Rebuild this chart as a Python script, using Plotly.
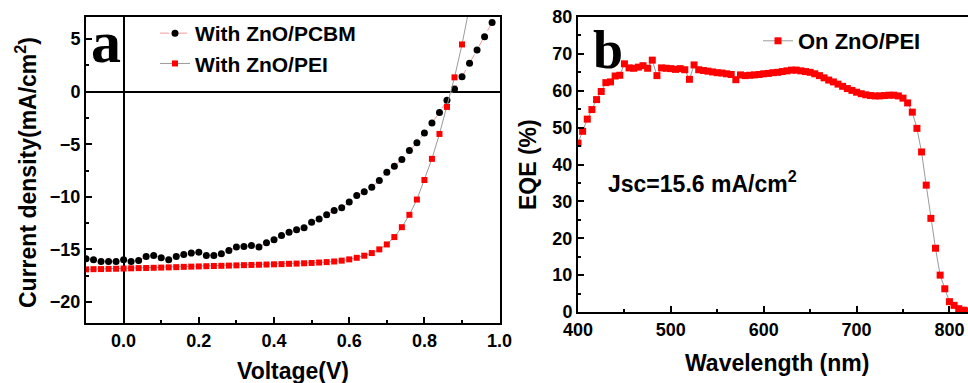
import plotly.graph_objects as go

# ---------------- data: panel a (J-V) ----------------
voltage = [-0.10, -0.08, -0.06, -0.04, -0.02, 0.00, 0.02, 0.04, 0.06, 0.08,
           0.10, 0.12, 0.14, 0.16, 0.18, 0.20, 0.22, 0.24, 0.26, 0.28,
           0.30, 0.32, 0.34, 0.36, 0.38, 0.40, 0.42, 0.44, 0.46, 0.48,
           0.50, 0.52, 0.54, 0.56, 0.58, 0.60, 0.62, 0.64, 0.66, 0.68,
           0.70, 0.72, 0.74, 0.76, 0.78, 0.80, 0.82, 0.84, 0.86, 0.88,
           0.90, 0.92, 0.94, 0.96, 0.98]

j_pcbm = [-15.9, -15.98, -16.15, -16.15, -16.15, -15.98, -16.15, -16.05, -15.67, -15.57,
          -15.8, -15.98, -15.67, -15.48, -15.35, -15.26, -15.57, -15.57, -15.42, -15.1,
          -14.78, -14.72, -14.62, -14.78, -14.37, -14.09, -13.68, -13.36, -13.14, -12.95,
          -12.41, -12.1, -11.7, -11.3, -11.05, -10.5, -9.88, -9.53, -9.09, -8.45,
          -7.66, -7.09, -6.46, -5.6, -4.87, -3.92, -2.97, -1.99, -0.82, 0.25,
          1.42, 2.69, 3.96, 5.22, 6.58]

voltage_pei = [-0.10, -0.08, -0.06, -0.04, -0.02, 0.00, 0.02, 0.04, 0.06, 0.08,
               0.10, 0.12, 0.14, 0.16, 0.18, 0.20, 0.22, 0.24, 0.26, 0.28,
               0.30, 0.32, 0.34, 0.36, 0.38, 0.40, 0.42, 0.44, 0.46, 0.48,
               0.50, 0.52, 0.54, 0.56, 0.58, 0.60, 0.62, 0.64, 0.66, 0.68,
               0.70, 0.72, 0.74, 0.76, 0.78, 0.80, 0.82, 0.84, 0.86, 0.88,
               0.90, 0.92]

j_pei = [-16.9, -16.88, -16.87, -16.85, -16.84, -16.82, -16.8, -16.78, -16.77, -16.75,
         -16.73, -16.71, -16.69, -16.66, -16.64, -16.62, -16.6, -16.58, -16.56, -16.54,
         -16.52, -16.5, -16.48, -16.46, -16.44, -16.42, -16.4, -16.37, -16.35, -16.32,
         -16.29, -16.25, -16.21, -16.15, -16.07, -15.95, -15.8, -15.6, -15.35, -15.0,
         -14.53, -13.83, -12.89, -11.71, -10.26, -8.4, -6.39, -4.02, -1.45, 1.36,
         4.49, 8.1]

# ---------------- data: panel b (EQE) ----------------
wavelength = [400, 405, 410, 415, 420, 425, 430, 435, 440, 445,
              450, 455, 460, 465, 470, 475, 480, 485, 490, 495,
              500, 505, 510, 515, 520, 525, 530, 535, 540, 545,
              550, 555, 560, 565, 570, 575, 580, 585, 590, 595,
              600, 605, 610, 615, 620, 625, 630, 635, 640, 645,
              650, 655, 660, 665, 670, 675, 680, 685, 690, 695,
              700, 705, 710, 715, 720, 725, 730, 735, 740, 745,
              750, 755, 760, 765, 770, 775, 780, 785, 790, 795,
              800, 805, 810, 815, 820]

eqe = [45.8, 49.0, 52.3, 54.9, 57.6, 59.8, 62.2, 62.4, 64.0, 64.2,
       67.3, 66.2, 66.1, 66.4, 66.8, 66.1, 68.3, 64.1, 66.2, 66.1,
       66.0, 65.8, 66.0, 65.7, 63.1, 67.0, 65.7, 65.5, 65.3, 65.1,
       64.9, 64.8, 64.6, 64.4, 63.0, 64.3, 64.1, 64.2, 64.3, 64.4,
       64.6, 64.7, 64.9, 65.0, 65.2, 65.4, 65.6, 65.6, 65.4, 65.2,
       65.0, 64.6, 64.1, 63.5, 62.9, 62.4, 61.8, 61.2, 60.6, 60.1,
       59.6, 59.2, 58.9, 58.7, 58.6, 58.6, 58.7, 58.8, 58.8, 58.6,
       58.0, 56.7, 54.2, 49.8, 43.4, 34.4, 25.4, 17.3, 10.0, 6.3,
       2.8, 1.8, 0.9, 0.5, 0.3]

x_ticks_a = [0.0, 0.2, 0.4, 0.6, 0.8, 1.0]
x_ticklabels_a = ["0.0", "0.2", "0.4", "0.6", "0.8", "1.0"]
y_ticks_a = [-20, -15, -10, -5, 0, 5]
x_ticks_b = [400, 500, 600, 700, 800]
y_ticks_b = [0, 10, 20, 30, 40, 50, 60, 70, 80]

W, H = 968, 383
def px(x):
    return x / W
def py(y):
    return 1 - y / H

SANS = "Liberation Sans, Arial, sans-serif"
SERIF = "Liberation Serif, Times New Roman, serif"

fig = go.Figure()

fig.add_trace(go.Scatter(
    x=voltage, y=j_pcbm, mode="lines+markers", name="With ZnO/PCBM",
    line=dict(color="#f29a9a", width=1, dash="dash"),
    marker=dict(symbol="circle", size=7, color="black"),
    xaxis="x", yaxis="y", legend="legend"))
fig.add_trace(go.Scatter(
    x=voltage_pei, y=j_pei, mode="lines+markers", name="With ZnO/PEI",
    line=dict(color="#9a9a9a", width=1),
    marker=dict(symbol="square", size=6, color="#ff0000"),
    xaxis="x", yaxis="y", legend="legend"))
fig.add_trace(go.Scatter(
    x=wavelength, y=eqe, mode="lines+markers", name="On ZnO/PEI",
    line=dict(color="#9a9a9a", width=1),
    marker=dict(symbol="square", size=7, color="#ff0000"),
    xaxis="x2", yaxis="y2", legend="legend2"))

tickfont = dict(family=SANS, size=18, color="black", weight="bold")
common = dict(showgrid=False, showline=True, linecolor="black", linewidth=2,
              ticks="inside", tickcolor="black", tickwidth=1.5, ticklen=6,
              tickfont=tickfont, automargin=False, ticklabeloverflow="allow")
minor = dict(ticks="inside", ticklen=3, tickcolor="black", tickwidth=1.5, showgrid=False)

fig.update_layout(
    width=W, height=H,
    margin=dict(l=0, r=0, t=0, b=0, autoexpand=False),
    paper_bgcolor="white", plot_bgcolor="white",
    showlegend=True,
    xaxis=dict(domain=[px(86), px(500)], range=[-0.1, 1.001], anchor="y",
               tickvals=x_ticks_a, ticktext=x_ticklabels_a, mirror=True,
               zeroline=True, zerolinecolor="black", zerolinewidth=1.5,
               minor=dict(dtick=0.1, tick0=0, **minor), **common),
    yaxis=dict(domain=[py(323), py(17)], range=[-22, 7.1], anchor="x",
               tickvals=y_ticks_a, mirror=True,
               zeroline=True, zerolinecolor="black", zerolinewidth=1.5,
               minor=dict(dtick=2.5, tick0=0, **minor), **common),
    xaxis2=dict(domain=[px(578), 1.0], range=[400, 820], anchor="y2",
                tickvals=x_ticks_b, mirror=True, zeroline=False,
                minor=dict(dtick=50, tick0=400, **minor), **common),
    yaxis2=dict(domain=[py(312), py(17)], range=[0, 80], anchor="x2",
                tickvals=y_ticks_b, mirror=False, zeroline=False,
                minor=dict(dtick=5, tick0=0, **minor), **common),
    legend=dict(x=px(155), y=py(13), xanchor="left", yanchor="top",
                bgcolor="rgba(0,0,0,0)", borderwidth=0,
                font=dict(family=SANS, size=21, color="black", weight="bold"),
                tracegroupgap=0, itemwidth=30),
    legend2=dict(x=px(758), y=py(20), xanchor="left", yanchor="top",
                 bgcolor="rgba(0,0,0,0)", borderwidth=0,
                 font=dict(family=SANS, size=22, color="black", weight="bold")),
)

ann = []
ann.append(dict(text="Current density(mA/cm<sup>2</sup>)", x=px(26), y=py(173),
                textangle=-90, font=dict(family=SANS, size=23, weight="bold")))
ann.append(dict(text="Voltage(V)", x=px(293), y=py(371),
                font=dict(family=SANS, size=23, weight="bold")))
ann.append(dict(text="Wavelength (nm)", x=px(777), y=py(363),
                font=dict(family=SANS, size=23, weight="bold")))
ann.append(dict(text="EQE (%)", x=px(528), y=py(165), textangle=-90,
                font=dict(family=SANS, size=23, weight="bold")))
ann.append(dict(text="Jsc=15.6 mA/cm<sup>2</sup>", x=px(606), y=py(182), xanchor="left",
                font=dict(family=SANS, size=23, weight="bold")))
ann.append(dict(text="a", x=px(106), y=py(42),
                font=dict(family=SERIF, size=60, weight="bold")))
ann.append(dict(text="b", x=px(608), y=py(50),
                font=dict(family=SERIF, size=54, weight="bold")))
for a in ann:
    a.setdefault("xanchor", "center")
    a.setdefault("yanchor", "middle")
    a["xref"] = "paper"
    a["yref"] = "paper"
    a["showarrow"] = False
    a["font"]["color"] = "black"
fig.update_layout(annotations=ann)

fig.write_html("out.html", config={"displayModeBar": False},
               post_script="var d=document.getElementById('{plot_id}');"
                           "d.style.position='absolute';d.style.left='0px';d.style.top='0px';")
